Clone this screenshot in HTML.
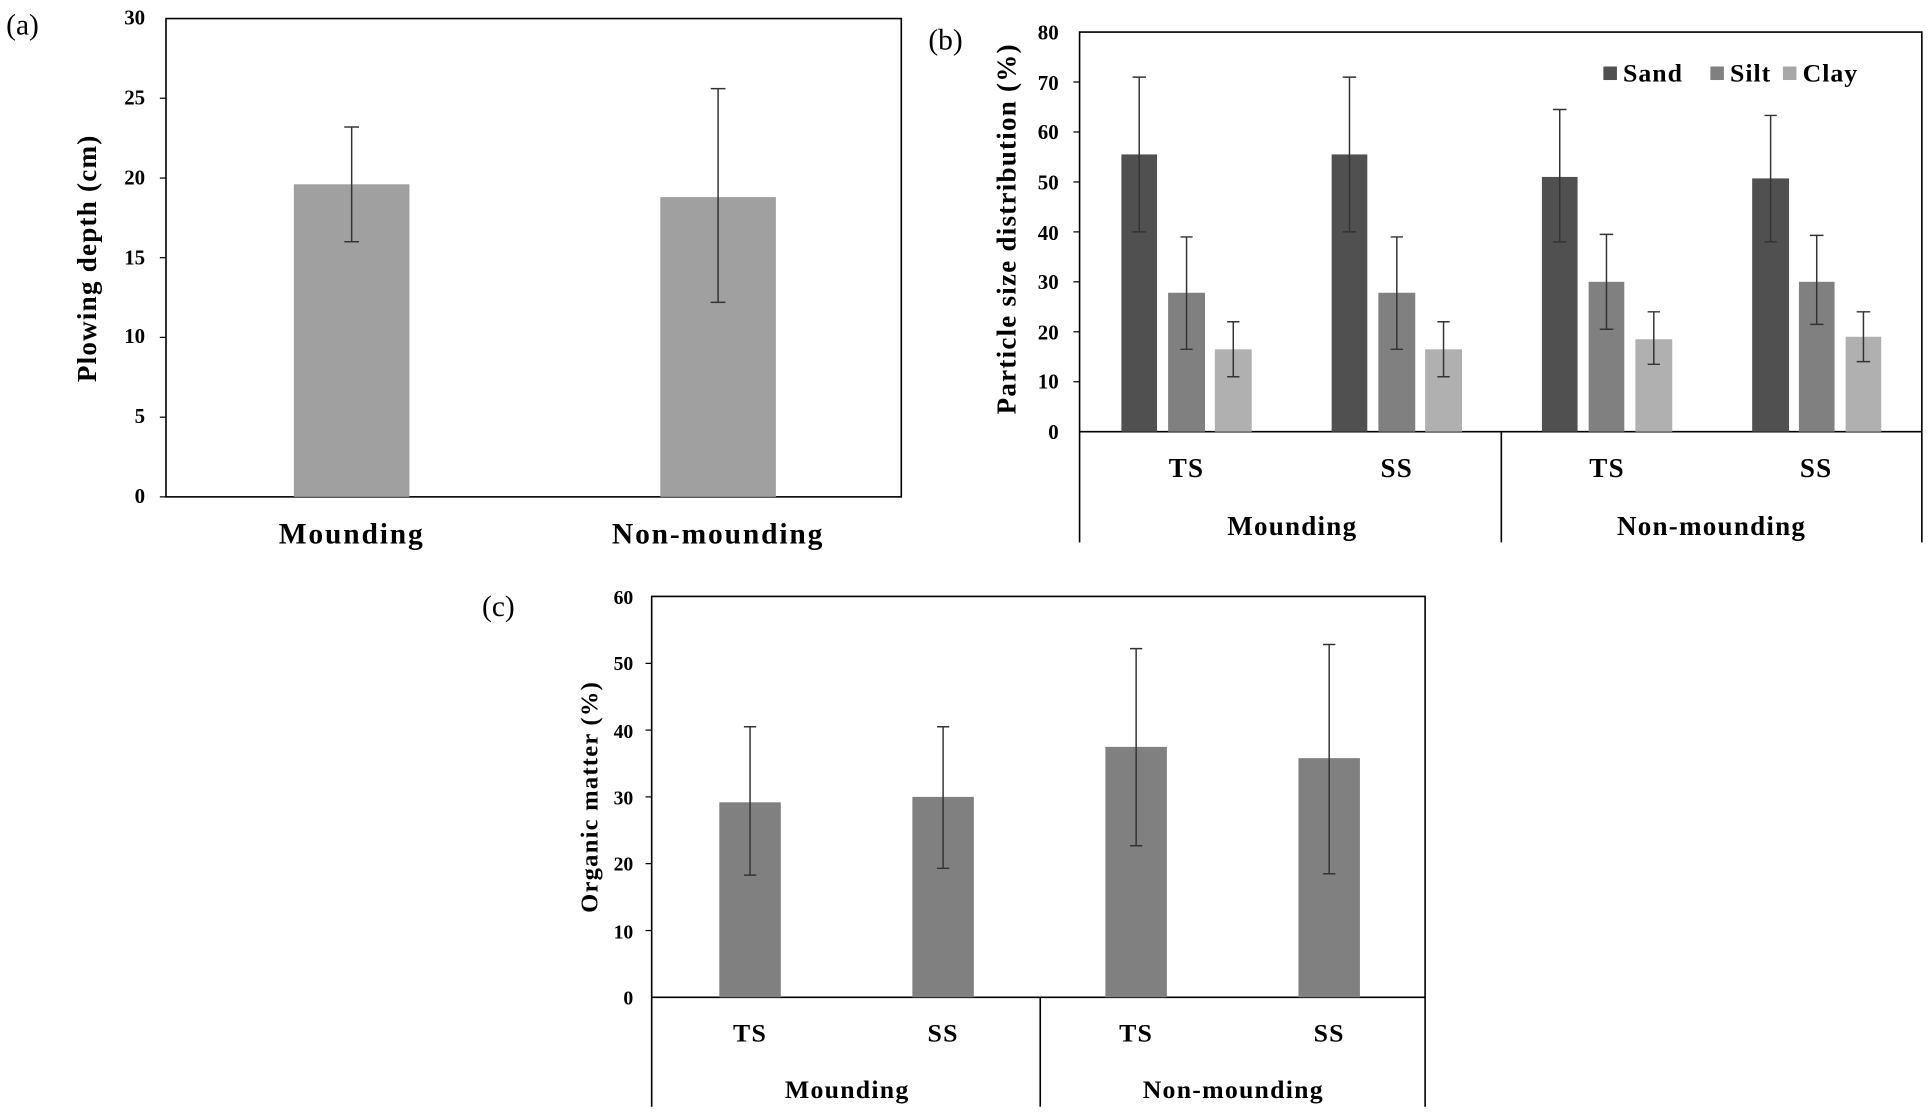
<!DOCTYPE html>
<html><head><meta charset="utf-8"><style>html,body{margin:0;padding:0;background:#fff}svg{display:block}</style></head><body>
<svg width="1928" height="1113" viewBox="0 0 1568 905" xmlns="http://www.w3.org/2000/svg" font-family="'Liberation Serif',serif">
<rect width="1568" height="905" fill="#fff"/>
<!-- Panel a -->
<text x="5" y="28" font-size="24">(a)</text>
<rect x="135" y="15" width="598" height="389" fill="none" stroke="#000" stroke-width="1.3"/>
<g font-size="17" font-weight="bold" text-anchor="end">
<text x="118" y="409">0</text><text x="118" y="344">5</text><text x="118" y="279">10</text><text x="118" y="215">15</text><text x="118" y="150">20</text><text x="118" y="85">25</text><text x="118" y="20">30</text>
</g>
<g stroke="#000"><line x1="130" y1="404" x2="135" y2="404"/><line x1="130" y1="339.2" x2="135" y2="339.2"/><line x1="130" y1="274.3" x2="135" y2="274.3"/><line x1="130" y1="209.5" x2="135" y2="209.5"/><line x1="130" y1="144.7" x2="135" y2="144.7"/><line x1="130" y1="79.8" x2="135" y2="79.8"/></g>
<text transform="translate(78,210) rotate(-90)" font-size="22" font-weight="bold" text-anchor="middle" letter-spacing="1">Plowing depth (cm)</text>
<rect x="239" y="149.8" width="94" height="254.2" fill="#a0a0a0"/>
<rect x="537" y="160.2" width="94" height="243.8" fill="#a0a0a0"/>
<g stroke="#333" stroke-width="1.2">
<line x1="286" y1="103.2" x2="286" y2="196.5"/><line x1="280" y1="103.2" x2="292" y2="103.2"/><line x1="280" y1="196.5" x2="292" y2="196.5"/>
<line x1="584" y1="72" x2="584" y2="245.8"/><line x1="578" y1="72" x2="590" y2="72"/><line x1="578" y1="245.8" x2="590" y2="245.8"/>
</g>
<g font-size="24" font-weight="bold" text-anchor="middle" letter-spacing="1.5"><text x="286" y="442">Mounding</text><text x="584" y="442">Non-mounding</text></g>

<!-- Panel b -->
<text x="755" y="40" font-size="24">(b)</text>
<polyline points="878,441 878,26 1563,26 1563,441" fill="none" stroke="#000" stroke-width="1.3"/>
<line x1="878" y1="351" x2="1563" y2="351" stroke="#000" stroke-width="1.3"/>
<line x1="1221" y1="351" x2="1221" y2="441" stroke="#000" stroke-width="1.3"/>
<g font-size="17" font-weight="bold" text-anchor="end">
<text x="861" y="357">0</text><text x="861" y="316">10</text><text x="861" y="276">20</text><text x="861" y="235">30</text><text x="861" y="195">40</text><text x="861" y="154">50</text><text x="861" y="113">60</text><text x="861" y="73">70</text><text x="861" y="32">80</text>
</g>
<g stroke="#000"><line x1="873" y1="310.4" x2="878" y2="310.4"/><line x1="873" y1="269.75" x2="878" y2="269.75"/><line x1="873" y1="229.1" x2="878" y2="229.1"/><line x1="873" y1="188.5" x2="878" y2="188.5"/><line x1="873" y1="147.9" x2="878" y2="147.9"/><line x1="873" y1="107.25" x2="878" y2="107.25"/><line x1="873" y1="66.6" x2="878" y2="66.6"/></g>
<text transform="translate(826,186) rotate(-90)" font-size="22" font-weight="bold" text-anchor="middle" letter-spacing="1">Particle size distribution (%)</text>
<g>
<rect x="912" y="125.5" width="29" height="225.5" fill="#505050"/>
<rect x="950" y="238" width="30" height="113" fill="#808080"/>
<rect x="988" y="284" width="30" height="67" fill="#b0b0b0"/>
<rect x="1083" y="125.5" width="29" height="225.5" fill="#505050"/>
<rect x="1121" y="238" width="30" height="113" fill="#808080"/>
<rect x="1159" y="284" width="30" height="67" fill="#b0b0b0"/>
<rect x="1254" y="143.8" width="29" height="207.2" fill="#505050"/>
<rect x="1292" y="229.1" width="29" height="121.9" fill="#808080"/>
<rect x="1330" y="275.8" width="30" height="75.2" fill="#b0b0b0"/>
<rect x="1425" y="145" width="30" height="206" fill="#505050"/>
<rect x="1463" y="229.1" width="29" height="121.9" fill="#808080"/>
<rect x="1501" y="273.8" width="29" height="77.2" fill="#b0b0b0"/>
</g>
<g stroke="#333" stroke-width="1.2" fill="none">
<path d="M926.5 62.6V188.5M921 62.6H932M921 188.5H932"/>
<path d="M965 192.6V284M960 192.6H970M960 284H970"/>
<path d="M1003 261.6V306.3M998 261.6H1008M998 306.3H1008"/>
<path d="M1097.5 62.6V188.5M1092 62.6H1103M1092 188.5H1103"/>
<path d="M1136 192.6V284M1131 192.6H1141M1131 284H1141"/>
<path d="M1174 261.6V306.3M1169 261.6H1179M1169 306.3H1179"/>
<path d="M1268.5 89V196.6M1263 89H1274M1263 196.6H1274"/>
<path d="M1306.5 190.5V267.7M1301 190.5H1312M1301 267.7H1312"/>
<path d="M1345 253.5V296.2M1340 253.5H1350M1340 296.2H1350"/>
<path d="M1440 93.8V196.6M1435 93.8H1445M1435 196.6H1445"/>
<path d="M1477.5 191.3V263.7M1472 191.3H1483M1472 263.7H1483"/>
<path d="M1515.5 253.5V294M1510 253.5H1521M1510 294H1521"/>
</g>
<g font-size="22" font-weight="bold" text-anchor="middle" letter-spacing="1">
<text x="965" y="388">TS</text><text x="1136" y="388">SS</text><text x="1307" y="388">TS</text><text x="1477" y="388">SS</text>
<text x="1051" y="435">Mounding</text><text x="1392" y="435">Non-mounding</text>
</g>
<rect x="1304" y="54" width="11" height="11" fill="#505050"/>
<rect x="1391" y="54" width="11" height="11" fill="#808080"/>
<rect x="1450" y="54" width="11" height="11" fill="#a8a8a8"/>
<g font-size="21" font-weight="bold" letter-spacing="0.8"><text x="1320" y="66">Sand</text><text x="1407" y="66">Silt</text><text x="1466" y="66">Clay</text></g>

<!-- Panel c -->
<text x="392" y="501" font-size="24">(c)</text>
<polyline points="530,900 530,485 1159,485 1159,900" fill="none" stroke="#000" stroke-width="1.3"/>
<line x1="530" y1="811" x2="1159" y2="811" stroke="#000" stroke-width="1.3"/>
<line x1="846" y1="811" x2="846" y2="900" stroke="#000" stroke-width="1.3"/>
<g font-size="16" font-weight="bold" text-anchor="end">
<text x="515" y="817">0</text><text x="515" y="763">10</text><text x="515" y="708">20</text><text x="515" y="654">30</text><text x="515" y="600">40</text><text x="515" y="545">50</text><text x="515" y="491">60</text>
</g>
<g stroke="#000"><line x1="525" y1="756.7" x2="530" y2="756.7"/><line x1="525" y1="702.3" x2="530" y2="702.3"/><line x1="525" y1="648" x2="530" y2="648"/><line x1="525" y1="593.7" x2="530" y2="593.7"/><line x1="525" y1="539.4" x2="530" y2="539.4"/></g>
<text transform="translate(486,648) rotate(-90)" font-size="20" font-weight="bold" text-anchor="middle" letter-spacing="1">Organic matter (%)</text>
<rect x="585" y="652.4" width="50" height="158.6" fill="#808080"/>
<rect x="742" y="648" width="50" height="163" fill="#808080"/>
<rect x="899" y="607.3" width="50" height="203.7" fill="#808080"/>
<rect x="1056" y="616.5" width="50" height="194.5" fill="#808080"/>
<g stroke="#333" stroke-width="1.2" fill="none">
<path d="M610 591V711.6M605 591H615M605 711.6H615"/>
<path d="M767 591V706.1M762 591H772M762 706.1H772"/>
<path d="M924 527.4V687.7M919 527.4H929M919 687.7H929"/>
<path d="M1081 524.1V710.5M1076 524.1H1086M1076 710.5H1086"/>
</g>
<g font-size="21" font-weight="bold" text-anchor="middle" letter-spacing="1">
<text x="610" y="847">TS</text><text x="767" y="847">SS</text><text x="924" y="847">TS</text><text x="1081" y="847">SS</text>
<text x="689" y="893">Mounding</text><text x="1003" y="893">Non-mounding</text>
</g>
</svg>
</body></html>
